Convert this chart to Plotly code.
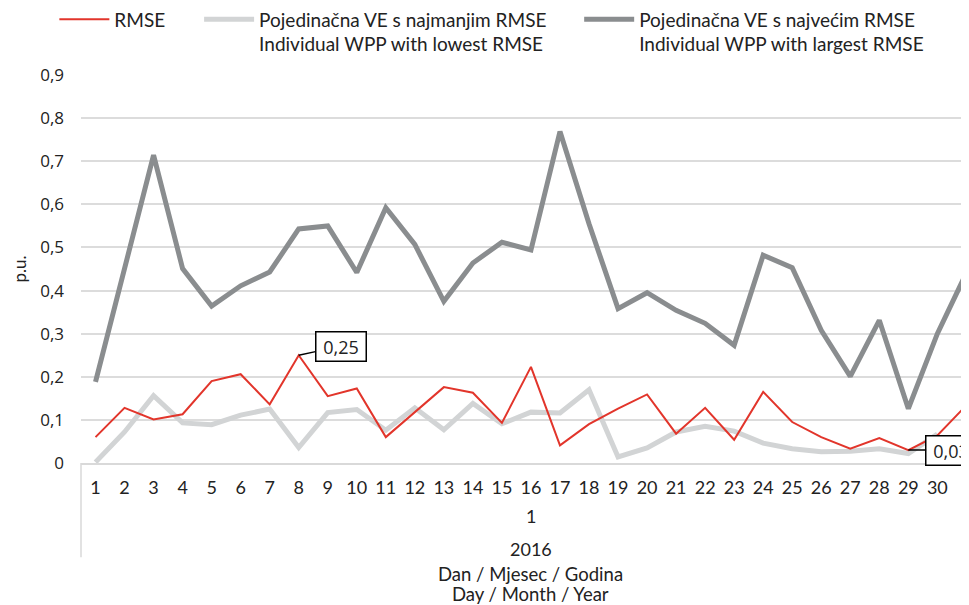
import plotly.graph_objects as go

days = list(range(1, 32))
day_labels = [str(d) for d in days]

rmse = [0.060, 0.128, 0.101, 0.113, 0.190, 0.206, 0.136, 0.250, 0.155, 0.173,
        0.060, 0.118, 0.176, 0.163, 0.093, 0.223, 0.041, 0.090, 0.126, 0.159,
        0.068, 0.128, 0.054, 0.165, 0.095, 0.060, 0.033, 0.058, 0.030, 0.064,
        0.134]
lowest = [0.002, 0.072, 0.156, 0.093, 0.089, 0.111, 0.125, 0.036, 0.117, 0.124,
          0.076, 0.128, 0.077, 0.138, 0.091, 0.118, 0.116, 0.170, 0.014, 0.035,
          0.072, 0.085, 0.074, 0.046, 0.033, 0.026, 0.027, 0.033, 0.022, 0.067,
          None]
largest = [0.188, 0.452, 0.714, 0.451, 0.364, 0.411, 0.443, 0.543, 0.550, 0.442,
           0.592, 0.507, 0.375, 0.464, 0.512, 0.494, 0.769, 0.555, 0.358, 0.395,
           0.354, 0.324, 0.273, 0.482, 0.453, 0.308, 0.201, 0.331, 0.126, 0.300,
           0.441]

y_ticks = [0, 0.1, 0.2, 0.3, 0.4, 0.5, 0.6, 0.7, 0.8, 0.9]
y_tick_labels = ["0", "0,1", "0,2", "0,3", "0,4", "0,5", "0,6", "0,7", "0,8", "0,9"]

name_rmse = "RMSE"
name_low = "Pojedinačna VE s najmanjim RMSE<br>Individual WPP with lowest RMSE"
name_high = "Pojedinačna VE s najvećim RMSE<br>Individual WPP with largest RMSE"
month_label = "1"
year_label = "2016"
x_title_hr = "Dan / Mjesec / Godina"
x_title_en = "Day / Month / Year"
y_title = "p.u."

RED = "#E2352B"
LGRAY = "#D2D4D5"
DGRAY = "#8A8D8F"
TXT = "#222222"
SANS = "Lato, 'Liberation Sans', sans-serif"
SEGOE = "'Open Sans', 'DejaVu Sans', sans-serif"

fig = go.Figure()
fig.add_trace(go.Scatter(x=days, y=lowest, mode="lines", name=name_low,
                         line=dict(color=LGRAY, width=5), legend="legend2"))
fig.add_trace(go.Scatter(x=days, y=largest, mode="lines", name=name_high,
                         line=dict(color=DGRAY, width=5), legend="legend3"))
fig.add_trace(go.Scatter(x=days, y=rmse, mode="lines", name=name_rmse,
                         line=dict(color=RED, width=2), legend="legend"))

leg_common = dict(orientation="h", yanchor="top", y=1.192, xanchor="left",
                  font=dict(family=SANS, size=19, color=TXT),
                  bgcolor="rgba(0,0,0,0)", valign="top", itemwidth=50,
                  tracegroupgap=0)
fig.update_layout(
    legend=dict(x=-0.03, **leg_common),
    legend2=dict(x=0.133, **leg_common),
    legend3=dict(x=0.561, **leg_common),
)

fig.update_xaxes(range=[0.5, 31.09], tickmode="array", tickvals=days, ticktext=day_labels,
                 showgrid=False, zeroline=False, showline=True, linecolor="#D9D9D9",
                 linewidth=1.5, ticks="", tickfont=dict(family=SANS, size=18, color=TXT),
                 ticklabelstandoff=8)
fig.update_yaxes(range=[0, 0.9], tickmode="array", tickvals=y_ticks, ticktext=y_tick_labels,
                 showgrid=True, gridcolor="#DCDCDC", gridwidth=1.5, zeroline=False,
                 showline=False, ticks="", tickfont=dict(family=SEGOE, size=17, color=TXT),
                 ticklabelstandoff=16)

callout_font = dict(family=SEGOE, size=18, color=TXT)
annotations = [
    dict(x=16, y=-0.1375, xref="x", yref="paper", text=month_label, showarrow=False,
         xanchor="center", yanchor="middle", font=dict(family=SANS, size=18, color=TXT)),
    dict(x=16, y=-0.2226, xref="x", yref="paper", text=year_label, showarrow=False,
         xanchor="center", yanchor="middle", font=dict(family=SANS, size=18, color=TXT)),
    dict(x=16, y=-0.2870, xref="x", yref="paper", text=x_title_hr, showarrow=False,
         xanchor="center", yanchor="middle", font=dict(family=SANS, size=18.5, color=TXT)),
    dict(x=16, y=-0.3375, xref="x", yref="paper", text=x_title_en, showarrow=False,
         xanchor="center", yanchor="middle", font=dict(family=SANS, size=18.5, color=TXT)),
    dict(x=-0.0703, y=0.5, xref="paper", yref="paper", text=y_title, showarrow=False,
         xanchor="center", yanchor="middle", textangle=-90,
         font=dict(family=SANS, size=17, color=TXT)),
    dict(x=days[7], y=rmse[7], xref="x", yref="y", text="&nbsp;0,25&nbsp;", showarrow=True,
         arrowhead=0, arrowwidth=1.5, arrowcolor="#000000", ax=42, ay=-9,
         bgcolor="#FFFFFF", bordercolor="#000000", borderwidth=1.5, borderpad=2,
         font=callout_font, standoff=0),
    dict(x=days[28], y=rmse[28], xref="x", yref="y", text="&nbsp;0,03&nbsp;", showarrow=True,
         arrowhead=0, arrowwidth=1.5, arrowcolor="#000000", ax=43, ay=0,
         bgcolor="#FFFFFF", bordercolor="#000000", borderwidth=1.5, borderpad=2,
         font=callout_font, standoff=0),
]

fig.update_layout(
    width=961, height=597,
    margin=dict(l=72.5, r=0, t=67, b=142.3, autoexpand=False),
    paper_bgcolor="#FFFFFF", plot_bgcolor="#FFFFFF",
    annotations=annotations,
    shapes=[dict(type="line", xref="paper", yref="paper", x0=0, x1=0, y0=0, y1=-0.243,
                 line=dict(color="#D9D9D9", width=1.5))],
    showlegend=True,
)

fig.write_html("out.html")
